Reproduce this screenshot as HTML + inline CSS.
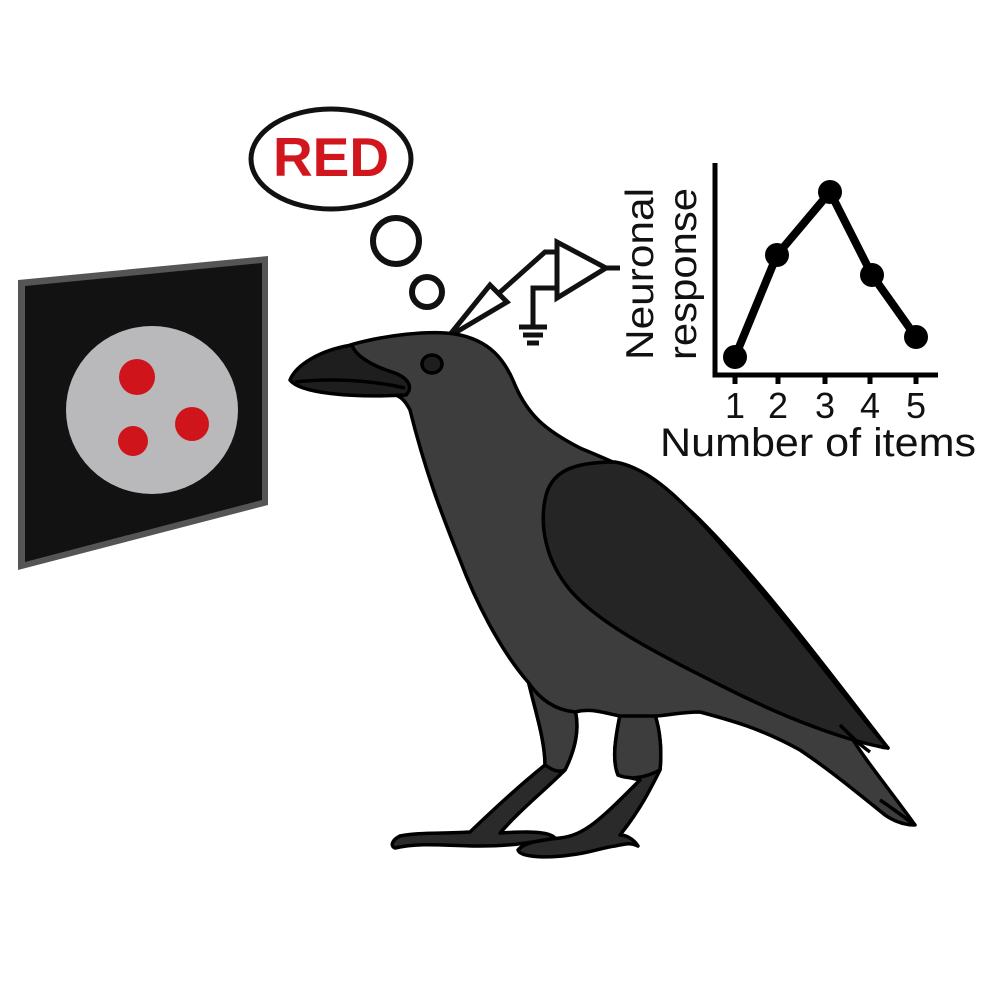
<!DOCTYPE html>
<html><head><meta charset="utf-8"><style>html,body{margin:0;padding:0;background:#fff}svg{display:block}</style></head>
<body>
<svg width="996" height="996" viewBox="0 0 996 996" xmlns="http://www.w3.org/2000/svg" font-family="Liberation Sans, Arial, sans-serif">
<!-- screen -->
<polygon points="18,280 268,256 268,505 18,570" fill="#555"/>
<polygon points="25,286 262,263 262,500 25,562" fill="#121212"/>
<ellipse cx="152" cy="410" rx="86" ry="84" fill="#b9b9bc"/>
<circle cx="137" cy="377" r="18" fill="#d0141c"/>
<circle cx="192" cy="424" r="17" fill="#d0141c"/>
<circle cx="133" cy="441" r="15" fill="#d0141c"/>
<!-- thought bubble -->
<ellipse cx="331" cy="159" rx="80" ry="50" fill="#fff" stroke="#111" stroke-width="5"/>
<text x="331" y="176" text-anchor="middle" font-size="55" font-weight="bold" fill="#d2161e">RED</text>
<circle cx="396" cy="241" r="23" fill="none" stroke="#111" stroke-width="6"/>
<circle cx="427" cy="292" r="15" fill="none" stroke="#111" stroke-width="6"/>
<!-- electrode & amp -->
<g stroke="#111" stroke-width="5" fill="#fff" stroke-linejoin="miter">
<polygon points="448,337 490,285 507,302"/>
<polyline points="498,294 545,252 557,252" fill="none"/>
<polygon points="557,242 557,298 606,268"/>
<line x1="606" y1="268" x2="620" y2="268"/>
<polyline points="557,288 533,288 533,325" fill="none"/>
<line x1="519" y1="327" x2="547" y2="327"/>
<line x1="523" y1="335" x2="543" y2="335"/>
<line x1="527" y1="343" x2="539" y2="343"/>
</g>
<!-- crow -->
<g stroke="#000" stroke-width="3.5" stroke-linejoin="round">
<path d="M620,715 C615,740 612,760 618,775 L640,780 C600,820 585,835 560,838 C540,840 525,842 518,850 C520,858 550,858 570,855 C590,853 600,848 615,846 C625,844 630,842 638,846 C633,838 625,835 620,835 C640,810 650,790 660,770 C662,750 660,730 655,715 Z" fill="#2a2a2a"/>
<path d="M620,715 C615,740 612,760 618,775 C630,780 645,778 660,770 C662,750 660,730 655,715 Z" fill="#3d3d3d"/>
<path d="M528,680 C535,710 545,740 545,765 C520,785 495,808 470,832 C440,834 420,832 400,836 C392,840 390,846 395,848 C420,842 450,846 480,846 C510,846 530,843 555,838 C548,830 520,832 500,833 C520,810 545,790 565,770 C575,750 580,730 575,710 Z" fill="#2a2a2a"/>
<path d="M528,680 C535,710 545,740 545,765 C555,772 560,772 565,770 C575,750 580,730 575,710 Z" fill="#3d3d3d"/>
<path d="M350,345 C385,335 430,330 455,334 C490,340 505,360 515,385 C528,415 545,430 580,448 C620,465 660,480 700,520 C760,580 820,660 888,748 C880,748 860,740 850,735 C865,760 890,790 915,825 C905,825 895,822 885,815 C860,795 830,770 800,750 C760,728 730,720 700,712 C680,712 665,716 655,716 L620,716 C600,712 590,708 575,712 C555,710 540,700 528,682 C500,650 475,600 460,560 C440,510 425,470 410,410 C405,400 400,396 395,395 L352,394 Z" fill="#3d3d3d"/>
<path d="M545,500 C550,470 575,462 615,462 C660,470 700,520 760,590 C810,650 855,710 888,748 C850,742 790,720 730,690 C660,655 600,625 570,590 C545,560 540,525 545,500 Z" fill="#252525"/>
<path d="M840,725 C850,735 860,745 870,752" fill="none"/>
<path d="M880,800 C895,810 905,818 915,825" fill="none"/>
<path d="M352,345 C320,350 296,365 290,380 C300,393 350,398 406,395 C413,388 410,378 392,372 C370,365 355,355 352,345 Z" fill="#1e1e1e"/>
<path d="M295,382 C330,378 370,380 405,388" fill="none"/>
<ellipse cx="432" cy="364" rx="10" ry="9" fill="#1e1e1e"/>
</g>
<!-- graph -->
<g stroke="#000" stroke-width="5" fill="none">
<polyline points="715,163 715,375 938,375"/>
<line x1="735" y1="375" x2="735" y2="384"/>
<line x1="778" y1="375" x2="778" y2="384"/>
<line x1="825" y1="375" x2="825" y2="384"/>
<line x1="870" y1="375" x2="870" y2="384"/>
<line x1="916" y1="375" x2="916" y2="384"/>
<polyline points="735,357 777,255 830,192 872,275 916,337" stroke-width="8"/>
</g>
<g fill="#000">
<circle cx="735" cy="357" r="12"/><circle cx="777" cy="255" r="12"/><circle cx="830" cy="192" r="12"/><circle cx="872" cy="275" r="12"/><circle cx="916" cy="337" r="12"/>
</g>
<g font-size="36" fill="#111" text-anchor="middle">
<text x="735" y="418">1</text><text x="778" y="418">2</text><text x="825" y="418">3</text><text x="870" y="418">4</text><text x="916" y="418">5</text>
</g>
<text x="660" y="456" font-size="40" textLength="316" lengthAdjust="spacingAndGlyphs" fill="#111">Number of items</text>
<text transform="translate(653,274) rotate(-90)" font-size="39" text-anchor="middle" textLength="172" lengthAdjust="spacingAndGlyphs" fill="#111">Neuronal</text>
<text transform="translate(696,274) rotate(-90)" font-size="39" text-anchor="middle" textLength="172" lengthAdjust="spacingAndGlyphs" fill="#111">response</text>
</svg>
</body></html>
